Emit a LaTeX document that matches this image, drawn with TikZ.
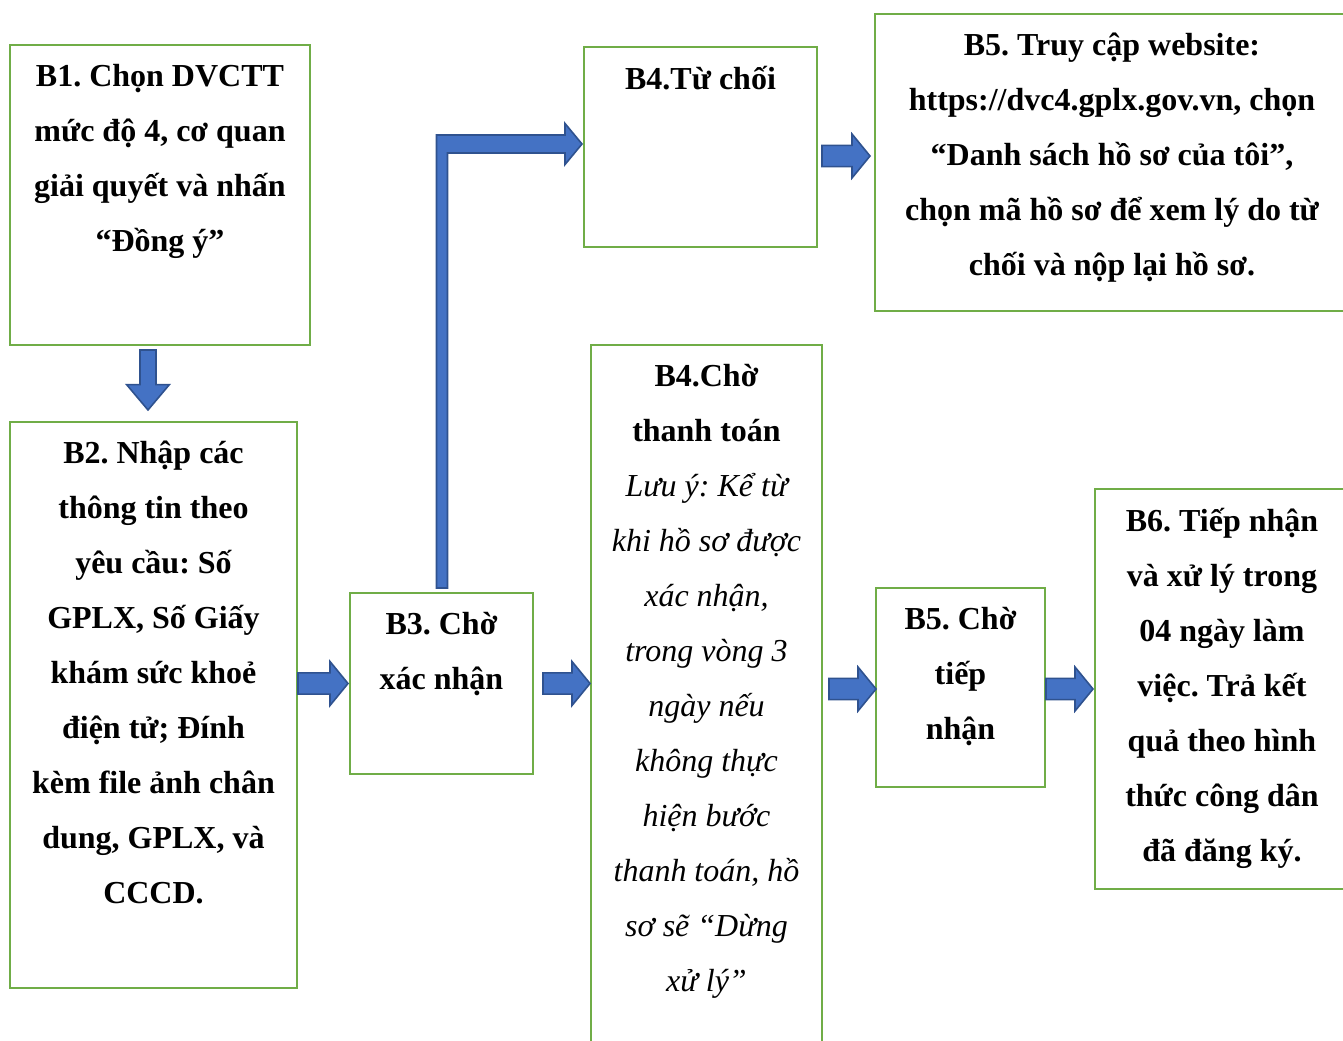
\documentclass[tikz,border=0pt]{standalone}
\usepackage{fontspec}
\setmainfont{Liberation Serif}
\usetikzlibrary{calc}
\frenchspacing

\definecolor{boxgreen}{HTML}{70AD47}
\definecolor{arrowfill}{HTML}{4472C4}
\definecolor{arrowline}{HTML}{2F528F}

\newcommand{\note}[1]{{\mdseries\itshape #1}}

% horizontal block arrow: tail, tip (centre line at the tip's height)
\newcommand{\harrow}[2]{%
  \draw[blockarrow] let \p1=(#1), \p2=(#2) in
    (\x1,\y2+8pt) -- (\x2-13.5pt,\y2+8pt) -- (\x2-13.5pt,\y2+16.5pt) -- (\x2,\y2)
    -- (\x2-13.5pt,\y2-16.5pt) -- (\x2-13.5pt,\y2-8pt) -- (\x1,\y2-8pt) -- cycle;}

\begin{document}
\begin{tikzpicture}[
    x=0.75pt, y=-0.75pt,
    box/.style={rectangle, draw=boxgreen, line width=2pt, outer sep=0pt},
    txt/.style={align=center, inner sep=0pt, anchor=north,
        font=\fontsize{24}{41.25}\selectfont\bfseries, execute at begin node=\strut},
    blockarrow/.style={fill=arrowfill, draw=arrowline, line width=1.2pt, line join=miter}
]
\useasboundingbox (0,0) rectangle (1343,1041);
\clip (0,0) rectangle (1343,1041);

% B1
\node[box, minimum width=225pt, minimum height=225pt] (b1) at (160,195) {};
\node[txt] (b1text) at ([yshift=-14pt]b1.north) {B1. Chọn DVCTT\\mức độ 4, cơ quan\\giải quyết và nhấn\\“Đồng ý”};

% B2
\node[box, minimum width=215.25pt, minimum height=424.5pt] (b2) at (153.5,705) {};
\node[txt] (b2text) at ([yshift=-14pt]b2.north) {B2. Nhập các\\thông tin theo\\yêu cầu: Số\\GPLX, Số Giấy\\khám sức khoẻ\\điện tử; Đính\\kèm file ảnh chân\\dung, GPLX, và\\CCCD.};

% B3
\node[box, minimum width=137.25pt, minimum height=135.75pt] (b3) at (441.5,683.5) {};
\node[txt] (b3text) at ([yshift=-14pt]b3.north) {B3. Chờ\\xác nhận};

% B4 - refused
\node[box, minimum width=174.75pt, minimum height=150pt] (b4r) at (700.5,147) {};
\node[txt] (b4rtext) at ([yshift=-3pt]b4r.north) {B4.Từ chối};

% B5 - website
\node[box, minimum width=355.5pt, minimum height=222.75pt] (b5w) at (1112,162.5) {};
\node[txt] (b5wtext) at ([yshift=-14pt]b5w.north) {B5. Truy cập website:\\https://dvc4.gplx.gov.vn, chọn\\“Danh sách hồ sơ của tôi”,\\chọn mã hồ sơ để xem lý do từ\\chối và nộp lại hồ sơ.};

% B4 - payment
\node[box, minimum width=173.25pt, minimum height=536.25pt] (b4p) at (706.5,702.5) {};
\node[txt] (b4ptext) at ([yshift=-14pt]b4p.north) {B4.Chờ\\thanh toán\\\note{Lưu ý: Kể từ}\\\note{khi hồ sơ được}\\\note{xác nhận,}\\\note{trong vòng 3}\\\note{ngày nếu}\\\note{không thực}\\\note{hiện bước}\\\note{thanh toán, hồ}\\\note{sơ sẽ “Dừng}\\\note{xử lý”}};

% B5 - waiting
\node[box, minimum width=126.75pt, minimum height=149.25pt] (b5c) at (960.5,687.5) {};
\node[txt] (b5ctext) at ([yshift=-14pt]b5c.north) {B5. Chờ\\tiếp\\nhận};

% B6
\node[box, minimum width=190.5pt, minimum height=300pt] (b6) at (1222,689) {};
\node[txt] (b6text) at ([yshift=-14pt]b6.north) {B6. Tiếp nhận\\và xử lý trong\\04 ngày làm\\việc. Trả kết\\quả theo hình\\thức công dân\\đã đăng ký.};

% Arrows
\draw[blockarrow] let \p1=(b1.south), \p2=(b2.north) in
  (\x1-15pt,\y1-3.75pt) -- (\x1-15pt,\y2+28pt) -- (\x1-25pt,\y2+28pt) -- (\x1-9pt,\y2+9pt)
  -- (\x1+7pt,\y2+28pt) -- (\x1-3pt,\y2+28pt) -- (\x1-3pt,\y1-3.75pt) -- cycle;

\harrow{$(b2.east)+(1,0)$}{$(b3.west)+(-2,0)$}
\harrow{$(b3.east)+(10,0)$}{$(b4p.west |- b3.east)+(-1,0)$}
\harrow{$(b4p.east)+(7,0)$}{$(b5c.west)+(0,1.5)$}
\harrow{$(b5c.east)+(1,0)$}{$(b6.west)+(-2,0)$}
\harrow{$(b4r.east)+(5,0)$}{$(b5w.west)+(-5,-6.5)$}

% B3 -> B4 refused (bent)
\draw[blockarrow] let \p1=(b3.north), \p2=($(b4r.west)+(-2,-3)$) in
  (\x1-3.75pt,\y1+3.75pt) -- (\x1-3.75pt,\y2+6.75pt) -- (\x2-12.75pt,\y2+6.75pt)
  -- (\x2-12.75pt,\y2+15.4pt) -- (\x2,\y2) -- (\x2-12.75pt,\y2-15.4pt)
  -- (\x2-12.75pt,\y2-6.75pt) -- (\x1+4.5pt,\y2-6.75pt) -- (\x1+4.5pt,\y1+3.75pt) -- cycle;

\end{tikzpicture}
\end{document}
